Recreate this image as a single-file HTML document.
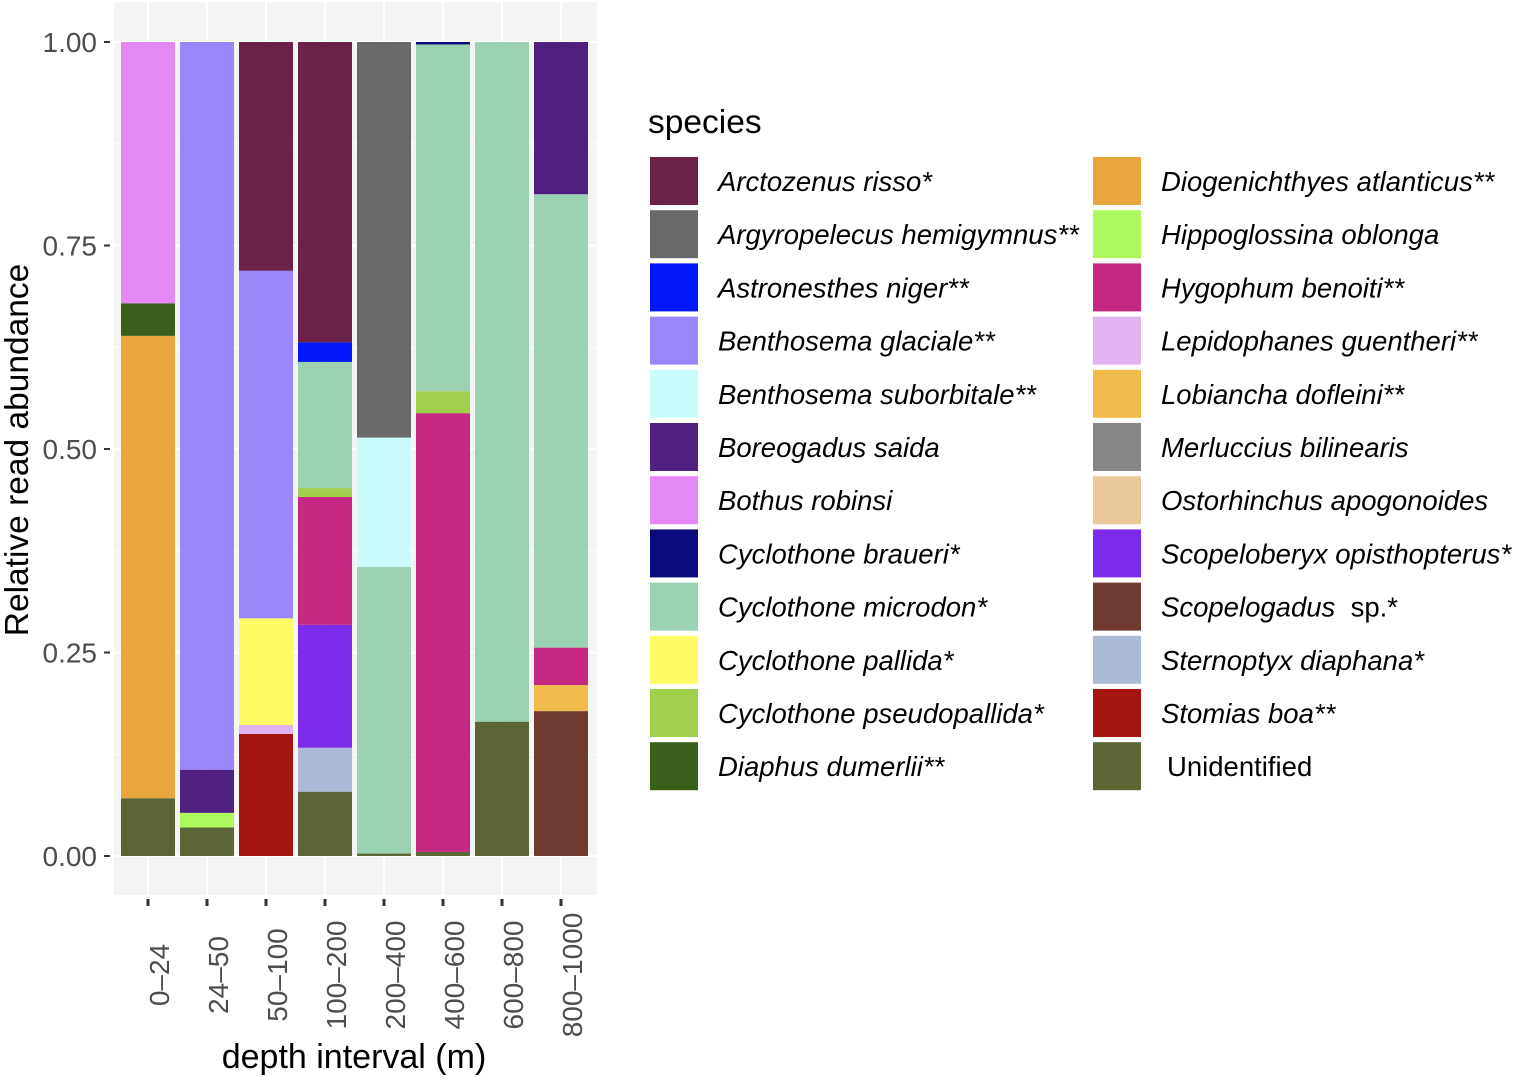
<!DOCTYPE html>
<html><head><meta charset="utf-8"><style>
body{margin:0;background:#fff;}
svg{display:block;font-family:"Liberation Sans",sans-serif;}
</style></head><body>
<svg id="chart" width="1520" height="1083" viewBox="0 0 1520 1083"></svg>
<script>
const categories=["0–24","24–50","50–100","100–200","200–400","400–600","600–800","800–1000"];
const speciesNames=["Arctozenus risso*","Argyropelecus hemigymnus**","Astronesthes niger**","Benthosema glaciale**","Benthosema suborbitale**","Boreogadus saida","Bothus robinsi","Cyclothone braueri*","Cyclothone microdon*","Cyclothone pallida*","Cyclothone pseudopallida*","Diaphus dumerlii**","Diogenichthyes atlanticus**","Hippoglossina oblonga","Hygophum benoiti**","Lepidophanes guentheri**","Lobiancha dofleini**","Merluccius bilinearis","Ostorhinchus apogonoides","Scopeloberyx opisthopterus*","Scopelogadus sp.*","Sternoptyx diaphana*","Stomias boa**","Unidentified"];
const speciesColors=["#6b2148","#696969","#0018f9","#9a85fb","#ccfbfb","#4f2080","#e388f5","#0b0a7c","#9dd1b3","#fdfc64","#a2d04c","#3a5f1a","#e9a63e","#adf85c","#c42881","#e2b3ef","#f0bb4a","#868686","#e9c99a","#7b2bea","#6f3a2f","#adbad6","#a3150d","#5b6535"];
// stacks bottom→top: [species index, proportion]
const bar0=[[23,0.071],[12,0.568],[11,0.040],[6,0.321]];
const bar1=[[23,0.035],[13,0.018],[5,0.053],[3,0.894]];
const bar2=[[22,0.150],[15,0.011],[9,0.131],[3,0.427],[0,0.281]];
const bar3=[[23,0.079],[21,0.054],[19,0.151],[14,0.157],[10,0.011],[8,0.155],[2,0.024],[0,0.369]];
const bar4=[[23,0.003],[8,0.352],[4,0.159],[1,0.486]];
const bar5=[[23,0.005],[14,0.539],[10,0.027],[8,0.426],[7,0.003]];
const bar6=[[23,0.165],[8,0.835]];
const bar7=[[20,0.178],[16,0.032],[14,0.046],[8,0.557],[5,0.187]];
const stacks=[bar0,bar1,bar2,bar3,bar4,bar5,bar6,bar7];
const yTicks=[0,0.25,0.5,0.75,1];
const yTickLabels=["0.00","0.25","0.50","0.75","1.00"];

const NS="http://www.w3.org/2000/svg";
const svg=document.getElementById('chart');
function mk(t,a,parent){const e=document.createElementNS(NS,t);for(const k in a)e.setAttribute(k,a[k]);(parent||svg).appendChild(e);return e;}
const y0=856,y1=42;
const yScale=v=>y0-(y0-y1)*v;
const xStart=148,step=59,bw=54;
const xScale=i=>xStart+i*step;

const panel=mk('rect',{x:114,y:2,width:483,height:893,fill:'#f4f4f4'});


for(let i=0;i<yTicks.length;i++){
  const gl=mk('line',{x1:114,x2:597,y1:yScale(yTicks[i]),y2:yScale(yTicks[i]),stroke:'#fff','stroke-width':2});
  
  
  if(i<yTicks.length-1){
    const mg=mk('line',{x1:114,x2:597,y1:yScale((yTicks[i]+yTicks[i+1])/2),y2:yScale((yTicks[i]+yTicks[i+1])/2),stroke:'#fff','stroke-width':1});
    
    
  }
}
for(let i=0;i<categories.length;i++){
  const gl=mk('line',{x1:xScale(i),x2:xScale(i),y1:2,y2:895,stroke:'#fff','stroke-width':2});
  
  
}
stacks.forEach((st,i)=>{
  let cum=0;
  st.forEach(([sp,v])=>{
    const r=mk('rect',{x:xScale(i)-bw/2,y:yScale(cum+v),width:bw,height:yScale(cum)-yScale(cum+v),fill:speciesColors[sp]});
    
    
    cum+=v;
  });
});
yTicks.forEach((t,i)=>{
  const tk=mk('line',{x1:104,x2:110,y1:yScale(t),y2:yScale(t),stroke:'#333','stroke-width':2});
  
  
  const tx=mk('text',{x:97,y:yScale(t)+10,'text-anchor':'end','font-size':28,fill:'#4d4d4d'});
  tx.textContent=yTickLabels[i];
  
  
});
categories.forEach((c,i)=>{
  const tk=mk('line',{x1:xScale(i),x2:xScale(i),y1:899,y2:906,stroke:'#333','stroke-width':3});
  
  
  const tx=mk('text',{x:0,y:0,'text-anchor':'middle','font-size':28,fill:'#4d4d4d',transform:`translate(${xScale(i)+21},975) rotate(-90)`});
  tx.textContent=c;
  
  
});
const xt=mk('text',{x:354,y:1068,'text-anchor':'middle','font-size':34,fill:'#000'});
xt.textContent='depth interval (m)';


const yt=mk('text',{x:0,y:0,'text-anchor':'middle','font-size':33.5,fill:'#000',transform:'translate(28,450) rotate(-90)'});
yt.textContent='Relative read abundance';


const lt=mk('text',{x:648,y:133,'font-size':33.5,fill:'#000'});
lt.textContent='species';


speciesNames.forEach((n,k)=>{
  const col=k<12?0:1,row=k%12;
  const kx=col?1093:650,ky=157+row*53.2;
  const g=mk('g',{});
  
  
  mk('rect',{x:kx,y:ky,width:48,height:48,fill:speciesColors[k]},g);
  const t=mk('text',{x:kx+68,y:ky+34,'font-size':27.5,fill:'#000'},g);
  if(n==='Unidentified'){t.setAttribute('x',kx+74);t.textContent=n;}
  else if(n.includes(' sp.')){
    const a=mk('tspan',{'font-style':'italic'},t);a.textContent='Scopelogadus';
    const b=mk('tspan',{},t);b.textContent='\u00a0\u00a0sp.*';
  } else {t.setAttribute('font-style','italic');t.textContent=n;}
});
</script>
</body></html>
